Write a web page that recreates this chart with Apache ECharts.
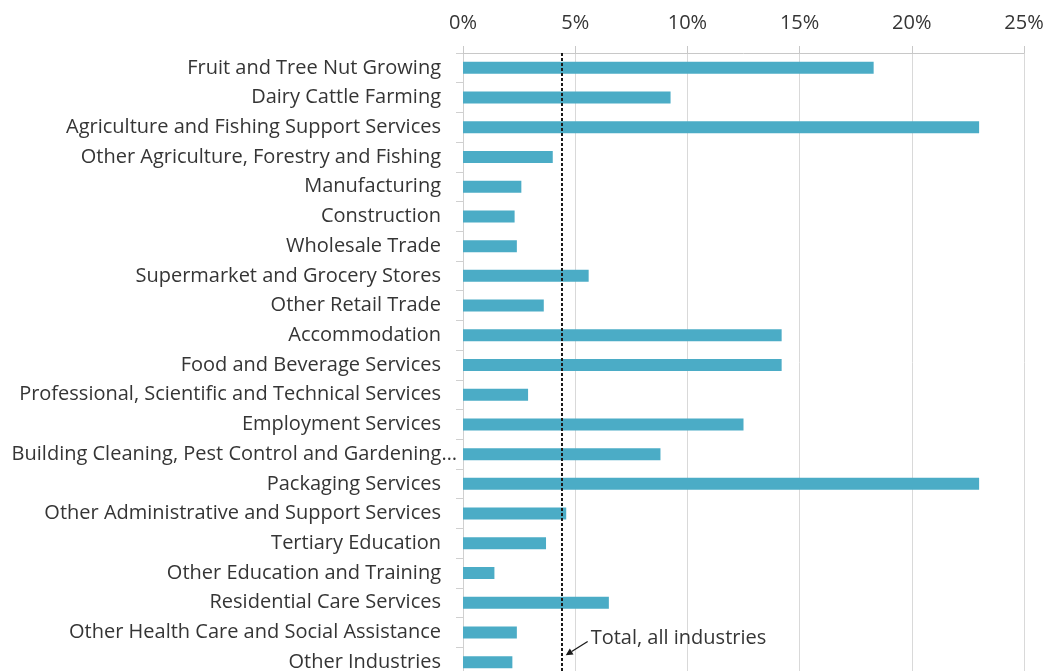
<!DOCTYPE html>
<html>
<head>
<meta charset="utf-8">
<script src="https://cdn.jsdelivr.net/npm/echarts@6/dist/echarts.min.js"></script>
<style>
  html, body { margin: 0; padding: 0; background: #ffffff; }
  #chart { width: 1046px; height: 671px; }
</style>
</head>
<body>
<div id="chart"></div>
<script>
// Industries, top to bottom
const industries = [
  'Fruit and Tree Nut Growing',
  'Dairy Cattle Farming',
  'Agriculture and Fishing Support Services',
  'Other Agriculture, Forestry and Fishing',
  'Manufacturing',
  'Construction',
  'Wholesale Trade',
  'Supermarket and Grocery Stores',
  'Other Retail Trade',
  'Accommodation',
  'Food and Beverage Services',
  'Professional, Scientific and Technical Services',
  'Employment Services',
  'Building Cleaning, Pest Control and Gardening\u2026',
  'Packaging Services',
  'Other Administrative and Support Services',
  'Tertiary Education',
  'Other Education and Training',
  'Residential Care Services',
  'Other Health Care and Social Assistance',
  'Other Industries'
];

// Share of each industry's workforce (%)
const shares = [
  18.3, 9.25, 23.0, 4.0, 2.6, 2.3, 2.4, 5.6, 3.6, 14.2, 14.2,
  2.9, 12.5, 8.8, 23.0, 4.6, 3.7, 1.4, 6.5, 2.4, 2.2
];

// Reference line: share across all industries (%)
const totalAllIndustries = 4.4;
const totalLabel = 'Total, all industries';

// Horizontal axis ticks (%)
const axisMin = 0;
const axisMax = 25;
const axisStep = 5;

const FONT = '"Open Sans", sans-serif';
const TEXT = '#353535';
const FS = 20;

// the truncated long name runs closer to the axis than the others
const longName = industries[13];

const chart = echarts.init(document.getElementById('chart'), null, { renderer: 'canvas' });

chart.setOption({
  animation: false,
  grid: { left: 463, right: 22, top: 53, bottom: -6, outerBoundsMode: 'none', containLabel: false },
  xAxis: {
    type: 'value',
    position: 'top',
    min: axisMin,
    max: axisMax,
    interval: axisStep,
    axisLine: { show: true, lineStyle: { color: '#c8c8c8', width: 1 } },
    axisTick: { show: true, length: 7, lineStyle: { color: '#c8c8c8' } },
    splitLine: { show: true, lineStyle: { color: '#d9d9d9', width: 1 } },
    axisLabel: {
      formatter: '{value}%',
      color: TEXT,
      fontFamily: FONT,
      fontSize: FS,
      margin: 20
    }
  },
  yAxis: {
    type: 'category',
    inverse: true,
    data: industries,
    axisLine: { show: true, lineStyle: { color: '#d0d0d0', width: 1 } },
    axisTick: { show: true, length: 7, lineStyle: { color: '#d0d0d0' } },
    axisLabel: {
      color: TEXT,
      fontFamily: FONT,
      fontSize: FS,
      margin: 22,
      formatter: (v) => (v === longName ? '{wide|' + v + '}' : v),
      rich: {
        wide: {
          color: TEXT,
          fontFamily: FONT,
          fontSize: FS,
          padding: [0, -16, 0, 0]
        }
      }
    }
  },
  series: [{
    type: 'bar',
    data: shares,
    barWidth: 12,
    itemStyle: { color: '#4BACC6' },
    markLine: {
      silent: true,
      symbol: ['none', 'none'],
      label: { show: false },
      lineStyle: { color: '#1a1a1a', width: 2, type: [3, 2] },
      data: [{ xAxis: totalAllIndustries }]
    }
  }]
});

// Callout arrow and caption for the all-industries line
const last = industries.length - 1;
const lineBottom = chart.convertToPixel({ gridIndex: 0 }, [totalAllIndustries, industries[last]]);
const captionAt = chart.convertToPixel({ gridIndex: 0 }, [totalAllIndustries + 1.2, industries[last - 1]]);
const tip = [lineBottom[0] + 4, lineBottom[1] - 7];
const tail = [captionAt[0] - 1, captionAt[1] + 9];
const ang = Math.atan2(tip[1] - tail[1], tip[0] - tail[0]);
const hl = 7, hw = 3.5;
const base = [tip[0] - hl * Math.cos(ang), tip[1] - hl * Math.sin(ang)];
const nx = -Math.sin(ang), ny = Math.cos(ang);

chart.setOption({
  graphic: [
    {
      type: 'line',
      silent: true,
      shape: { x1: tail[0], y1: tail[1], x2: base[0], y2: base[1] },
      style: { stroke: '#1a1a1a', lineWidth: 1.3 }
    },
    {
      type: 'polygon',
      silent: true,
      shape: { points: [tip, [base[0] + nx * hw, base[1] + ny * hw], [base[0] - nx * hw, base[1] - ny * hw]] },
      style: { fill: '#1a1a1a' }
    },
    {
      type: 'text',
      silent: true,
      x: captionAt[0] + 2,
      y: captionAt[1] + 6,
      style: {
        text: totalLabel,
        fill: TEXT,
        font: FS + 'px ' + FONT,
        verticalAlign: 'middle',
        align: 'left'
      }
    }
  ]
});
</script>
</body>
</html>
